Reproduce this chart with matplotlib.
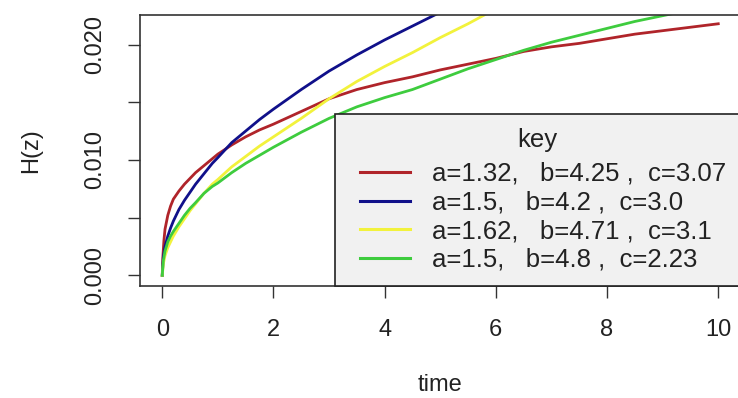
import matplotlib
matplotlib.use("Agg")
import matplotlib.pyplot as plt
from matplotlib.lines import Line2D
from matplotlib.legend_handler import HandlerLine2D

plt.rcParams['font.family'] = ['Liberation Sans', 'DejaVu Sans']

# ---- data ----
t_red = [0, 0.01, 0.03, 0.05, 0.1, 0.15, 0.2, 0.3, 0.4, 0.5, 0.6, 0.75, 0.9, 1.0, 1.25,
         1.5, 1.75, 2.0, 2.5, 3.0, 3.5, 4.0, 4.5, 5.0, 5.5, 6.0, 6.5, 7.0, 7.5, 8.0,
         8.5, 9.0, 9.5, 10.0]
h_red = [0, 0.0015, 0.0030, 0.0040, 0.0052, 0.0060, 0.0066, 0.0073, 0.0079, 0.0084,
         0.0089, 0.0095, 0.0101, 0.0105, 0.0113, 0.0120, 0.0126, 0.0131, 0.0142, 0.0153,
         0.0161, 0.0167, 0.0172, 0.0178, 0.0183, 0.0188, 0.0194, 0.0198, 0.0201, 0.0205,
         0.0209, 0.0212, 0.0215, 0.0218]

t_blue = [0, 0.02, 0.05, 0.1, 0.15, 0.2, 0.3, 0.4, 0.5, 0.6, 0.75, 0.9, 1.0, 1.25, 1.5,
          1.75, 2.0, 2.5, 3.0, 3.5, 4.0, 4.5, 5.0]
h_blue = [0, 0.0016, 0.0025, 0.0034, 0.0041, 0.0047, 0.0057, 0.0065, 0.0072, 0.0079,
          0.0088, 0.0097, 0.0102, 0.0115, 0.0125, 0.0135, 0.0144, 0.0161, 0.0177,
          0.0191, 0.0204, 0.0216, 0.0228]

t_yellow = [0, 0.02, 0.05, 0.1, 0.15, 0.2, 0.3, 0.4, 0.5, 0.6, 0.75, 0.9, 1.0, 1.25,
            1.5, 1.75, 2.0, 2.5, 3.0, 3.5, 4.0, 4.5, 5.0, 5.5, 6.0]
h_yellow = [0, 0.0010, 0.0017, 0.0024, 0.0029, 0.0034, 0.0042, 0.0049, 0.0056, 0.0062,
            0.0071, 0.0079, 0.0083, 0.0094, 0.0103, 0.0112, 0.0120, 0.0136, 0.0153,
            0.0168, 0.0181, 0.0193, 0.0206, 0.0218, 0.0231]

t_green = [0, 0.02, 0.05, 0.1, 0.15, 0.2, 0.3, 0.4, 0.5, 0.6, 0.75, 0.9, 1.0, 1.25, 1.5,
           1.75, 2.0, 2.5, 3.0, 3.5, 4.0, 4.5, 5.0, 5.5, 6.0, 6.5, 7.0, 7.5, 8.0, 8.5,
           9.0, 9.5]
h_green = [0, 0.0013, 0.0021, 0.0029, 0.0034, 0.0038, 0.0045, 0.0052, 0.0058, 0.0063,
           0.0071, 0.0077, 0.0080, 0.0089, 0.0097, 0.0104, 0.0111, 0.0124, 0.0136,
           0.0146, 0.0154, 0.0161, 0.0170, 0.0179, 0.0187, 0.0195, 0.0202, 0.0208,
           0.0214, 0.0220, 0.0225, 0.0230]

labels = ["a=1.32,   b=4.25 ,  c=3.07",
          "a=1.5,   b=4.2 ,  c=3.0",
          "a=1.62,   b=4.71 ,  c=3.1",
          "a=1.5,   b=4.8 ,  c=2.23"]
colors = ["#b0242a", "#10108a", "#f2f23c", "#3ecc3e"]

x_ticks = [0, 2, 4, 6, 8, 10]
y_ticks = [0.000, 0.005, 0.010, 0.015, 0.020]
y_ticklabels = ["0.000", "", "0.010", "", "0.020"]

# ---- figure ----
W, H = 738, 398
fig = plt.figure(figsize=(W / 100, H / 100), dpi=100)
ax = fig.add_axes([140 / W, (H - 286) / H, 600.5 / W, 271 / H])

series = [(t_red, h_red), (t_blue, h_blue), (t_yellow, h_yellow), (t_green, h_green)]
for (t, h), c, lab in zip(series, colors, labels):
    ax.plot(t, h, color=c, lw=2.0, label=lab, solid_joinstyle='round')

ax.set_xlim(-0.4, 10.4)
ax.set_ylim(-0.000927, 0.02256)

ax.set_xticks(x_ticks)
ax.set_xticklabels([str(v) for v in x_ticks])
ax.set_yticks(y_ticks)
ax.set_yticklabels(y_ticklabels, rotation=90, va='center')

tick_col = '#222222'
ax.tick_params(axis='both', direction='out', length=8.6, width=1.0, color='#333333',
               labelsize=17, labelcolor=tick_col)
ax.tick_params(axis='x', pad=15)
ax.tick_params(axis='y', pad=16)

for s in ax.spines.values():
    s.set_color('#333333')
    s.set_linewidth(1.2)

ax.set_xlabel("time", fontsize=17, color=tick_col, labelpad=24)
ax.set_ylabel("H(z)", fontsize=17, color=tick_col, labelpad=30)

lfs = 18.5
xpad = 0.43
leg = ax.legend(loc='lower right', bbox_to_anchor=(1.0, 0.0), borderaxespad=0,
                title="key", fontsize=lfs, title_fontsize=lfs,
                frameon=True, fancybox=False, framealpha=1.0,
                facecolor='#f1f1f1', edgecolor='#222222',
                handlelength=1.95 + xpad, handletextpad=0.85, labelspacing=0.18,
                borderpad=0.55,
                handler_map={Line2D: HandlerLine2D(xpad=xpad)})
leg._legend_box.sep = 7.0
leg.get_frame().set_linewidth(1.2)
for line in leg.get_lines():
    line.set_linewidth(2.2)
for txt in leg.get_texts():
    txt.set_color(tick_col)
leg.get_title().set_color(tick_col)

fig.savefig("out.png", dpi=100)
